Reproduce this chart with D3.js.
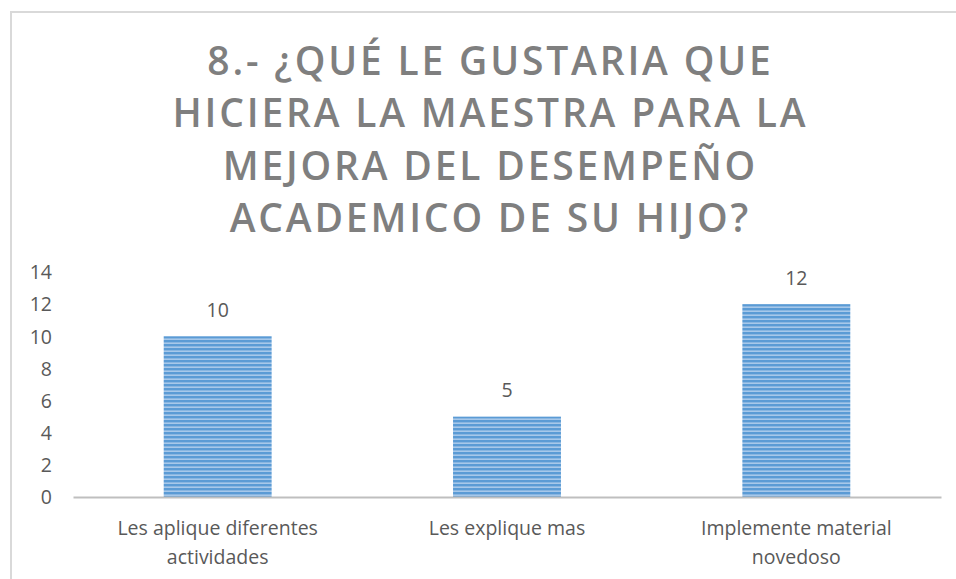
<!DOCTYPE html>
<html><head><meta charset="utf-8">
<script src="https://cdn.jsdelivr.net/npm/d3@7"></script>
<style>
html,body{margin:0;padding:0;background:#fff;}
svg{display:block;}
</style></head>
<body>
<script>
const titleLines = ["8.- ¿QUÉ LE GUSTARIA QUE", "HICIERA LA MAESTRA PARA LA", "MEJORA DEL DESEMPEÑO", "ACADEMICO DE SU HIJO?"];
const categories = ["Les aplique diferentes actividades", "Les explique mas", "Implemente material novedoso"];
const values = [10, 5, 12];
const yTicks = [0, 2, 4, 6, 8, 10, 12, 14];

const W = 956, H = 579;
const svg = d3.select("body").append("svg").attr("width", W).attr("height", H);

const defs = svg.append("defs");
const pat = defs.append("pattern").attr("id", "stripes").attr("patternUnits", "userSpaceOnUse")
  .attr("width", 8).attr("height", 4);
pat.append("rect").attr("width", 8).attr("height", 4).attr("fill", "#a7c8ea");
pat.append("rect").attr("y", 0).attr("width", 8).attr("height", 2.4).attr("fill", "#5b9bd5");

// frame
svg.append("path").attr("d", `M11,${H} V12 H${W}`).attr("fill", "none")
  .attr("stroke", "#d9d9d9").attr("stroke-width", 2);

// title
const title = svg.append("g");
const tl = title.selectAll("text").data(titleLines).enter().append("text")
  .attr("x", 489).attr("y", (d, i) => 75 + i * 52.3)
  .attr("text-anchor", "middle")
  .attr("font-family", "'Open Sans', sans-serif").attr("font-weight", 600)
  .attr("font-size", 39).attr("fill", "#7f7f7f")
  .text(d => d);
{
  const n2 = titleLines[1].length;
  const base = tl.nodes()[1].getComputedTextLength();
  const ls = (636 - base) / n2;
  tl.attr("letter-spacing", ls + "px").attr("x", 489 + ls / 2);
}

const x = d3.scaleBand().domain(categories).range([73, 941]).paddingInner(0.627).paddingOuter(0.3135);
const y = d3.scaleLinear().domain([0, 14]).range([497, 272]);

const fontF = "'Open Sans', sans-serif";
const txtC = "#595959";
const fs = 19.5;

const yAxis = d3.axisLeft(y).tickValues(yTicks).tickSize(0).tickPadding(0);
const ya = svg.append("g").attr("transform", "translate(52,0)").call(yAxis);
ya.select(".domain").remove();
ya.selectAll("text").attr("font-family", fontF).attr("font-size", fs).attr("fill", txtC).attr("dy", "0.35em");

svg.append("g").selectAll("rect").data(values).enter().append("rect")
  .attr("x", (d, i) => x(categories[i])).attr("width", x.bandwidth())
  .attr("y", d => y(d)).attr("height", d => y(0) - y(d))
  .attr("fill", "url(#stripes)");

svg.append("g").selectAll("text").data(values).enter().append("text")
  .attr("x", (d, i) => x(categories[i]) + x.bandwidth() / 2)
  .attr("y", d => y(d) - 26).attr("dy", "0.35em")
  .attr("text-anchor", "middle").attr("font-family", fontF).attr("font-size", fs).attr("fill", txtC)
  .text(d => d);

const xAxis = d3.axisBottom(x).tickSize(0).tickPadding(0);
const xa = svg.append("g").attr("transform", `translate(0,${y(0)})`).call(xAxis);
xa.select(".domain").attr("stroke", "#bfbfbf").attr("stroke-width", 2);
xa.selectAll("text").remove();
const xlab = svg.append("g");
categories.forEach(c => {
  const t = xlab.append("text").attr("text-anchor", "middle").attr("font-family", fontF)
    .attr("font-size", fs).attr("fill", txtC);
  const words = c.split(" ");
  let lines = [], cur = [];
  words.forEach(w => {
    cur.push(w);
    const probe = xlab.append("text").attr("font-family", fontF).attr("font-size", fs).text(cur.join(" "));
    const wl = probe.node().getComputedTextLength(); probe.remove();
    if (wl > 240 && cur.length > 1) { cur.pop(); lines.push(cur.join(" ")); cur = [w]; }
  });
  lines.push(cur.join(" "));
  lines.forEach((l, i) => t.append("tspan").attr("x", x(c) + x.bandwidth() / 2)
    .attr("y", 528 + i * 29).attr("dy", "0.35em").text(l));
});
</script>
</body></html>
